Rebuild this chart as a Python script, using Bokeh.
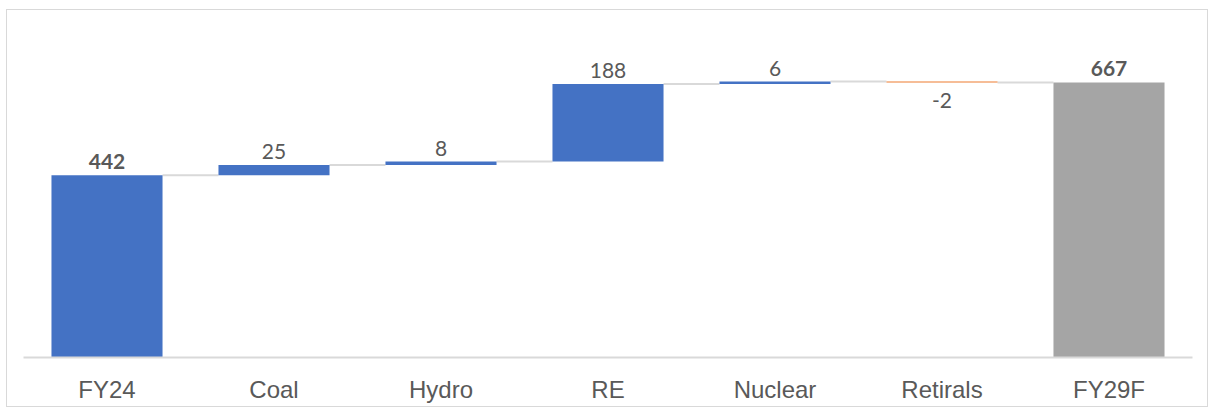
from bokeh.plotting import figure
from bokeh.models import ColumnDataSource, FactorRange, Range1d
from bokeh.transform import dodge
from bokeh.core.properties import value
from bokeh.embed import file_html
from bokeh.resources import INLINE

categories = ["FY24", "Coal", "Hydro", "RE", "Nuclear", "Retirals", "FY29F"]
values = [442, 25, 8, 188, 6, -2, 667]
is_total = [True, False, False, False, False, False, True]
labels = ["442", "25", "8", "188", "6", "-2", "667"]

# waterfall geometry from the values
bottoms, tops, colors, levels = [], [], [], []
running = 0
for i, (v, tot) in enumerate(zip(values, is_total)):
    if tot:
        b, t = 0, v
        running = v
        colors.append("#A5A5A5" if i == len(values) - 1 else "#4472C4")
    else:
        b, t = running, running + v
        running = running + v
        colors.append("#4472C4" if v >= 0 else "#ED7D31")
    bottoms.append(min(b, t))
    tops.append(max(b, t))
    levels.append(running)

src = ColumnDataSource(dict(cat=categories, bottom=bottoms, top=tops, color=colors))

pos_idx = [i for i, v in enumerate(values) if v >= 0]
neg_idx = [i for i, v in enumerate(values) if v < 0]
pos_norm = ColumnDataSource(dict(cat=[categories[i] for i in pos_idx if not is_total[i]],
                                 y=[tops[i] for i in pos_idx if not is_total[i]],
                                 t=[labels[i] for i in pos_idx if not is_total[i]]))
pos_bold = ColumnDataSource(dict(cat=[categories[i] for i in pos_idx if is_total[i]],
                                 y=[tops[i] for i in pos_idx if is_total[i]],
                                 t=[labels[i] for i in pos_idx if is_total[i]]))
neg_src = ColumnDataSource(dict(cat=[categories[i] for i in neg_idx],
                                y=[bottoms[i] for i in neg_idx],
                                t=[labels[i] for i in neg_idx]))

conn_y = []
for i in range(len(categories) - 1):
    conn_y.append(tops[i + 1] if values[i + 1] < 0 else levels[i])
conn = ColumnDataSource(dict(c0=categories[:-1], c1=categories[1:], y=conn_y))

BW = 0.665
p = figure(x_range=FactorRange(*categories), y_range=Range1d(0, 822),
           width=1202, height=398, output_backend="svg", toolbar_location=None,
           min_border_left=16, min_border_right=17, min_border_top=8, min_border_bottom=51)
p.styles = {"border": "1px solid #d9d9d9", "margin-left": "6px", "margin-top": "9px"}
p.outline_line_color = None
p.xgrid.grid_line_color = None
p.ygrid.grid_line_color = None
p.yaxis.visible = False

p.segment(x0=dodge("c0", BW / 2, range=p.x_range), x1=dodge("c1", -BW / 2, range=p.x_range),
          y0="y", y1="y", source=conn, line_color="#D9D9D9", line_width=2)

p.vbar(x="cat", bottom="bottom", top="top", width=BW, fill_color="color",
       line_color=None, source=src)

common = dict(text_align="center", text_font=value("Lato"),
              text_font_size="21px", text_color="#595959")
p.text(x="cat", y="y", text="t", source=pos_norm, text_baseline="bottom", y_offset=-6, **common)
p.text(x="cat", y="y", text="t", source=pos_bold, text_baseline="bottom", y_offset=-6,
       text_font_style="bold", **common)
p.text(x="cat", y="y", text="t", source=neg_src, text_baseline="top", y_offset=11, **common)

ax = p.xaxis[0]
ax.axis_line_color = "#D9D9D9"
ax.axis_line_width = 2
ax.major_tick_line_color = None
ax.minor_tick_line_color = None
ax.major_tick_out = 0
ax.major_label_standoff = 18
ax.major_label_text_font = "Liberation Sans"
ax.major_label_text_font_size = "24px"
ax.major_label_text_color = "#595959"

open("out.html", "w").write(file_html(p, INLINE))
